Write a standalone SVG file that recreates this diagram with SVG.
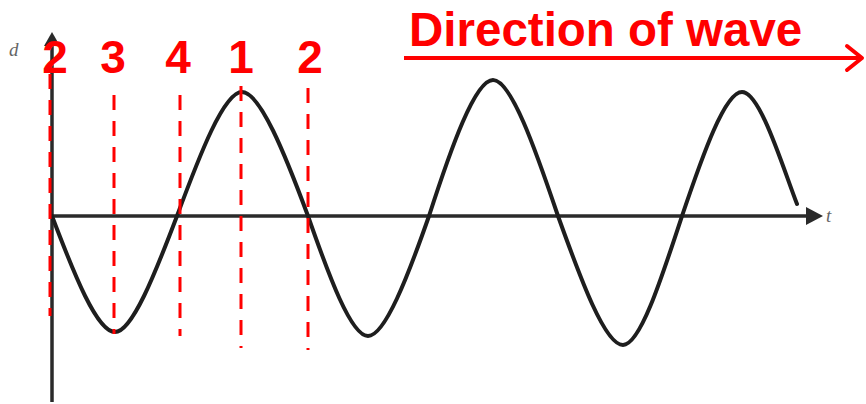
<svg xmlns="http://www.w3.org/2000/svg" width="866" height="404" viewBox="0 0 866 404">
<style>
.ax{stroke:#2a2a2a;stroke-width:3.5;fill:none}
.wave{stroke:#1e1e1e;stroke-width:4;fill:none;stroke-linejoin:round;stroke-linecap:round}
.dash{stroke:#ff0000;stroke-width:3;stroke-dasharray:15 11;fill:none}
.num{font-family:"Liberation Sans",Arial,sans-serif;font-weight:bold;font-size:46px;fill:#ff0000;text-anchor:middle}
.lbl{font-family:"Liberation Serif",serif;font-style:italic;font-size:19px;fill:#666}
</style>
<rect width="866" height="404" fill="#ffffff"/>
<g id="axes">
<line class="ax" x1="52" y1="42" x2="52" y2="402"/>
<polygon points="52,32 44,46 60,46" fill="#2a2a2a"/>
<line class="ax" x1="52" y1="216" x2="810" y2="216"/>
<polygon points="823,216 806,207 806,225" fill="#2a2a2a"/>
<text class="lbl" x="9" y="56">d</text>
<text class="lbl" x="826" y="222">t</text>
</g>
<g id="wave">
<path class="wave" d="M52,216 C74,274 97,332 115,332 C132,332 155,274 177,216 C200,154 224,92 242,92 C260,92 285,154 308,216 C329,276 351,336 368,336 C385,336 408,276 429,216 C451,148 475,80 493,80 C511,80 535,148 558,216 C581,280 605,345 623,345 C640,345 661,280 682,216 C703,154 725,92 742,92 C760,92 782,165 797,204"/>
</g>
<g id="connectors">
<line class="dash" x1="50" y1="74" x2="50" y2="316"/>
<line class="dash" x1="114" y1="95" x2="114" y2="334"/>
<line class="dash" x1="180" y1="95" x2="180" y2="336"/>
<line class="dash" x1="241" y1="86" x2="241" y2="348"/>
<line class="dash" x1="308" y1="88" x2="308" y2="350"/>
<g id="direction-arrow">
<line x1="404" y1="58" x2="862" y2="58" stroke="#ff0000" stroke-width="4"/>
<polyline points="847,46 862,58 847,70" fill="none" stroke="#ff0000" stroke-width="4" stroke-linecap="round" stroke-linejoin="round"/>
</g>
</g>
<g id="labels">
<text class="num" x="55" y="73">2</text>
<text class="num" x="113" y="73">3</text>
<text class="num" x="178" y="73">4</text>
<text class="num" x="241" y="73">1</text>
<text class="num" x="310" y="73">2</text>
<text x="409" y="46" font-family="'Liberation Sans',Arial,sans-serif" font-weight="bold" font-size="47.5" fill="#ff0000">Direction of wave</text>
</g>
</svg>
